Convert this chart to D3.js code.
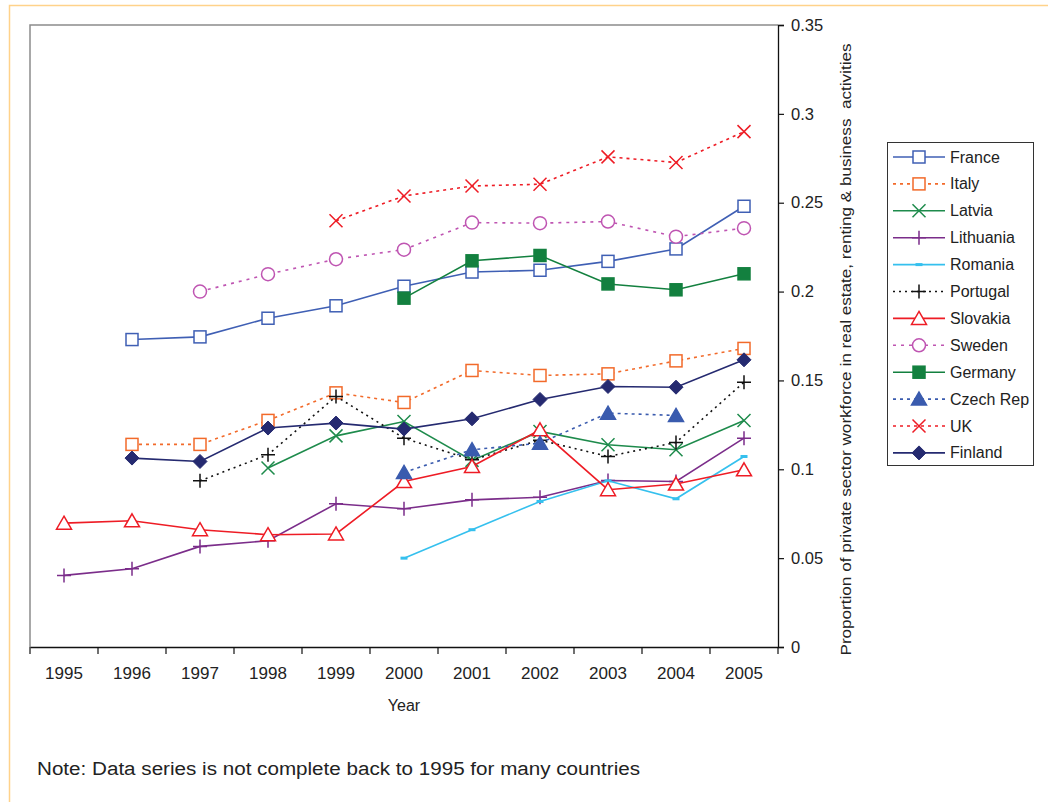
<!DOCTYPE html>
<html>
<head>
<meta charset="utf-8">
<script src="https://cdn.jsdelivr.net/npm/d3@7"></script>
<style>
  body { margin: 0; background: #fff; }
  text { font-family: "Liberation Sans", "DejaVu Sans", sans-serif; fill: #222; }
</style>
</head>
<body>
<script>
// Years on the x axis
const years = ["1995", "1996", "1997", "1998", "1999", "2000", "2001", "2002", "2003", "2004", "2005"];

// Share of private-sector workforce in real estate, renting & business activities
const france    = [null, 0.173, 0.1745, 0.185, 0.192, 0.203, 0.211, 0.212, 0.217, 0.224, 0.248];
const italy     = [null, 0.114, 0.114, 0.1275, 0.143, 0.1376, 0.1556, 0.1528, 0.1537, 0.161, 0.168];
const latvia    = [null, null, null, 0.1007, 0.1188, 0.1269, 0.105, 0.1213, 0.1138, 0.111, 0.1275];
const lithuania = [0.0403, 0.044, 0.0566, 0.0598, 0.0806, 0.0778, 0.0828, 0.0843, 0.0937, 0.0931, 0.1175];
const romania   = [null, null, null, null, null, 0.05, 0.066, 0.0819, 0.0935, 0.0834, 0.1072];
const portugal  = [null, null, 0.0935, 0.1082, 0.141, 0.1175, 0.1053, 0.1164, 0.1072, 0.1151, 0.149];
const slovakia  = [0.0697, 0.071, 0.066, 0.0632, 0.0636, 0.0931, 0.1016, 0.1222, 0.0885, 0.0917, 0.0997];
const sweden    = [null, null, 0.2, 0.2098, 0.2182, 0.2236, 0.2388, 0.2385, 0.2394, 0.2309, 0.2357];
const germany   = [null, null, null, null, null, 0.1963, 0.2173, 0.2203, 0.2043, 0.201, 0.21];
const czechRep  = [null, null, null, null, null, 0.0982, 0.111, 0.1147, 0.1316, 0.1303, null];
const uk        = [null, null, null, null, 0.2398, 0.2538, 0.2594, 0.2604, 0.2758, 0.2726, 0.29];
const finland   = [null, 0.1063, 0.1044, 0.1232, 0.126, 0.1226, 0.1284, 0.1393, 0.1466, 0.1462, 0.1616];

const seriesNames = ["France", "Italy", "Latvia", "Lithuania", "Romania", "Portugal",
                     "Slovakia", "Sweden", "Germany", "Czech Rep", "UK", "Finland"];
const seriesValues = [france, italy, latvia, lithuania, romania, portugal,
                      slovakia, sweden, germany, czechRep, uk, finland];

const yTicks = [0, 0.05, 0.1, 0.15, 0.2, 0.25, 0.3, 0.35];

// Line and marker styling per series
const styles = [
  { color: "#3F5FB4", dash: null,  marker: "square",   fill: "#fff" },
  { color: "#F26A2A", dash: "3,4", marker: "square",   fill: "#fff" },
  { color: "#1E8B4C", dash: null,  marker: "x",        fill: "none" },
  { color: "#7B2D8A", dash: null,  marker: "plus",     fill: "none" },
  { color: "#35C0EE", dash: null,  marker: "dash",     fill: "#35C0EE" },
  { color: "#111",    dash: "2,4", marker: "plus",     fill: "none" },
  { color: "#EE1C25", dash: null,  marker: "triangle", fill: "#fff" },
  { color: "#BF55B2", dash: "3,5", marker: "circle",   fill: "#fff" },
  { color: "#13803F", dash: null,  marker: "square",   fill: "#13803F" },
  { color: "#3A5BAE", dash: "3,4", marker: "triangle", fill: "#3A5BAE" },
  { color: "#EE1C25", dash: "3,4", marker: "x",        fill: "none" },
  { color: "#252A70", dash: null,  marker: "diamond",  fill: "#252A70" }
];

const W = 1048, H = 802;
const plot = { left: 30, right: 778, top: 25, bottom: 647 };

const svg = d3.select("body").append("svg").attr("width", W).attr("height", H);

// Outer frame
svg.append("rect")
  .attr("x", 9.5).attr("y", 5.5).attr("width", W).attr("height", H)
  .attr("fill", "none").attr("stroke", "#FFD28A").attr("stroke-width", 1.5);

const x = d3.scaleBand().domain(years).range([plot.left, plot.right]).padding(0);
const y = d3.scaleLinear().domain([0, 0.35]).range([plot.bottom, plot.top]);
const cx = d => x(d) + x.bandwidth() / 2;

// Plot area border (top and left)
svg.append("path")
  .attr("d", `M${plot.left},${plot.bottom}V${plot.top}H${plot.right}`)
  .attr("fill", "none").attr("stroke", "#8C8C8C").attr("stroke-width", 1.5);

// Right value axis
const yAxis = svg.append("g")
  .attr("transform", `translate(${plot.right},0)`)
  .call(d3.axisRight(y).tickValues(yTicks).tickSize(6).tickPadding(7)
        .tickFormat(d => d === 0 ? "0" : String(+d.toFixed(2))));
yAxis.select(".domain").attr("stroke", "#111").attr("stroke-width", 1.3);
yAxis.selectAll(".tick line").attr("stroke", "#111").attr("stroke-width", 1.2);
yAxis.selectAll(".tick text").attr("font-size", 16.5).attr("font-family", "Liberation Sans").attr("fill", "#222");

// Bottom category axis: labels at band centres, ticks at band edges
const xAxis = svg.append("g")
  .attr("transform", `translate(0,${plot.bottom})`)
  .call(d3.axisBottom(x).tickSize(0).tickPadding(20));
xAxis.select(".domain").attr("stroke", "#111").attr("stroke-width", 1.3);
xAxis.selectAll(".tick text").attr("font-size", 17).attr("font-family", "Liberation Sans").attr("fill", "#222");
const edges = years.map(d => x(d)).concat([plot.right]);
xAxis.selectAll(".edge").data(edges).join("line")
  .attr("class", "edge")
  .attr("x1", d => d).attr("x2", d => d).attr("y1", 0).attr("y2", 7)
  .attr("stroke", "#111").attr("stroke-width", 1.2);

// Axis titles
svg.append("text")
  .attr("x", (plot.left + plot.right) / 2).attr("y", 711)
  .attr("text-anchor", "middle").attr("font-size", 16).text("Year");

svg.append("text")
  .attr("transform", `translate(851,${(42 + 657) / 2}) rotate(-90)`)
  .attr("text-anchor", "middle").attr("font-size", 15)
  .attr("textLength", 612).attr("lengthAdjust", "spacingAndGlyphs")
  .style("white-space", "pre")
  .text("Proportion of private sector workforce in real estate, renting & business  activities");

// Footnote
svg.append("text")
  .attr("x", 37).attr("y", 775).attr("font-size", 18)
  .attr("textLength", 603).attr("lengthAdjust", "spacingAndGlyphs")
  .text("Note: Data series is not complete back to 1995 for many countries");

// Marker drawing
function drawMarker(g, type, color, fill) {
  const sw = 1.5;
  switch (type) {
    case "square":
      g.append("rect").attr("x", -6).attr("y", -6).attr("width", 12).attr("height", 12)
        .attr("fill", fill).attr("stroke", color).attr("stroke-width", sw);
      break;
    case "diamond":
      g.append("path").attr("d", "M0,-7L7,0L0,7L-7,0Z").attr("fill", fill).attr("stroke", color).attr("stroke-width", 1);
      break;
    case "triangle":
      g.append("path").attr("d", "M0,-7L7.5,6L-7.5,6Z").attr("fill", fill).attr("stroke", color).attr("stroke-width", sw);
      break;
    case "circle":
      g.append("circle").attr("r", 6.5).attr("fill", fill).attr("stroke", color).attr("stroke-width", sw);
      break;
    case "x":
      g.append("path").attr("d", "M-6.5,-6.5L6.5,6.5M-6.5,6.5L6.5,-6.5").attr("stroke", color).attr("stroke-width", sw).attr("fill", "none");
      break;
    case "plus":
      g.append("path").attr("d", "M-7,0H7M0,-7V7").attr("stroke", color).attr("stroke-width", sw).attr("fill", "none");
      break;
    case "dash":
      g.append("rect").attr("x", -3.5).attr("y", -1.5).attr("width", 7).attr("height", 3).attr("fill", fill);
      break;
  }
}

// Series lines and markers
const line = d3.line()
  .defined(d => d.v !== null)
  .x(d => cx(d.year)).y(d => y(d.v));

seriesNames.forEach((name, i) => {
  const st = styles[i];
  const pts = years.map((yr, j) => ({ year: yr, v: seriesValues[i][j] }));
  const g = svg.append("g").attr("class", "series");
  g.append("path").datum(pts)
    .attr("d", line)
    .attr("fill", "none").attr("stroke", st.color).attr("stroke-width", 1.6)
    .attr("stroke-dasharray", st.dash);
  pts.filter(p => p.v !== null).forEach(p => {
    const m = g.append("g").attr("transform", `translate(${cx(p.year)},${y(p.v)})`);
    drawMarker(m, st.marker, st.color, st.fill);
  });
});

// Legend
const legend = svg.append("g");
legend.append("rect")
  .attr("x", 887.5).attr("y", 142.5).attr("width", 146).attr("height", 323)
  .attr("fill", "#fff").attr("stroke", "#333").attr("stroke-width", 1);
seriesNames.forEach((name, i) => {
  const st = styles[i];
  const ly = 157 + i * 26.9;
  const item = legend.append("g");
  item.append("line").attr("x1", 893).attr("x2", 945).attr("y1", ly).attr("y2", ly)
    .attr("stroke", st.color).attr("stroke-width", 1.6).attr("stroke-dasharray", st.dash);
  const m = item.append("g").attr("transform", `translate(919,${ly})`);
  drawMarker(m, st.marker, st.color, st.fill);
  item.append("text").attr("x", 950).attr("y", ly + 5.5).attr("font-size", 16).text(name);
});
</script>
</body>
</html>
